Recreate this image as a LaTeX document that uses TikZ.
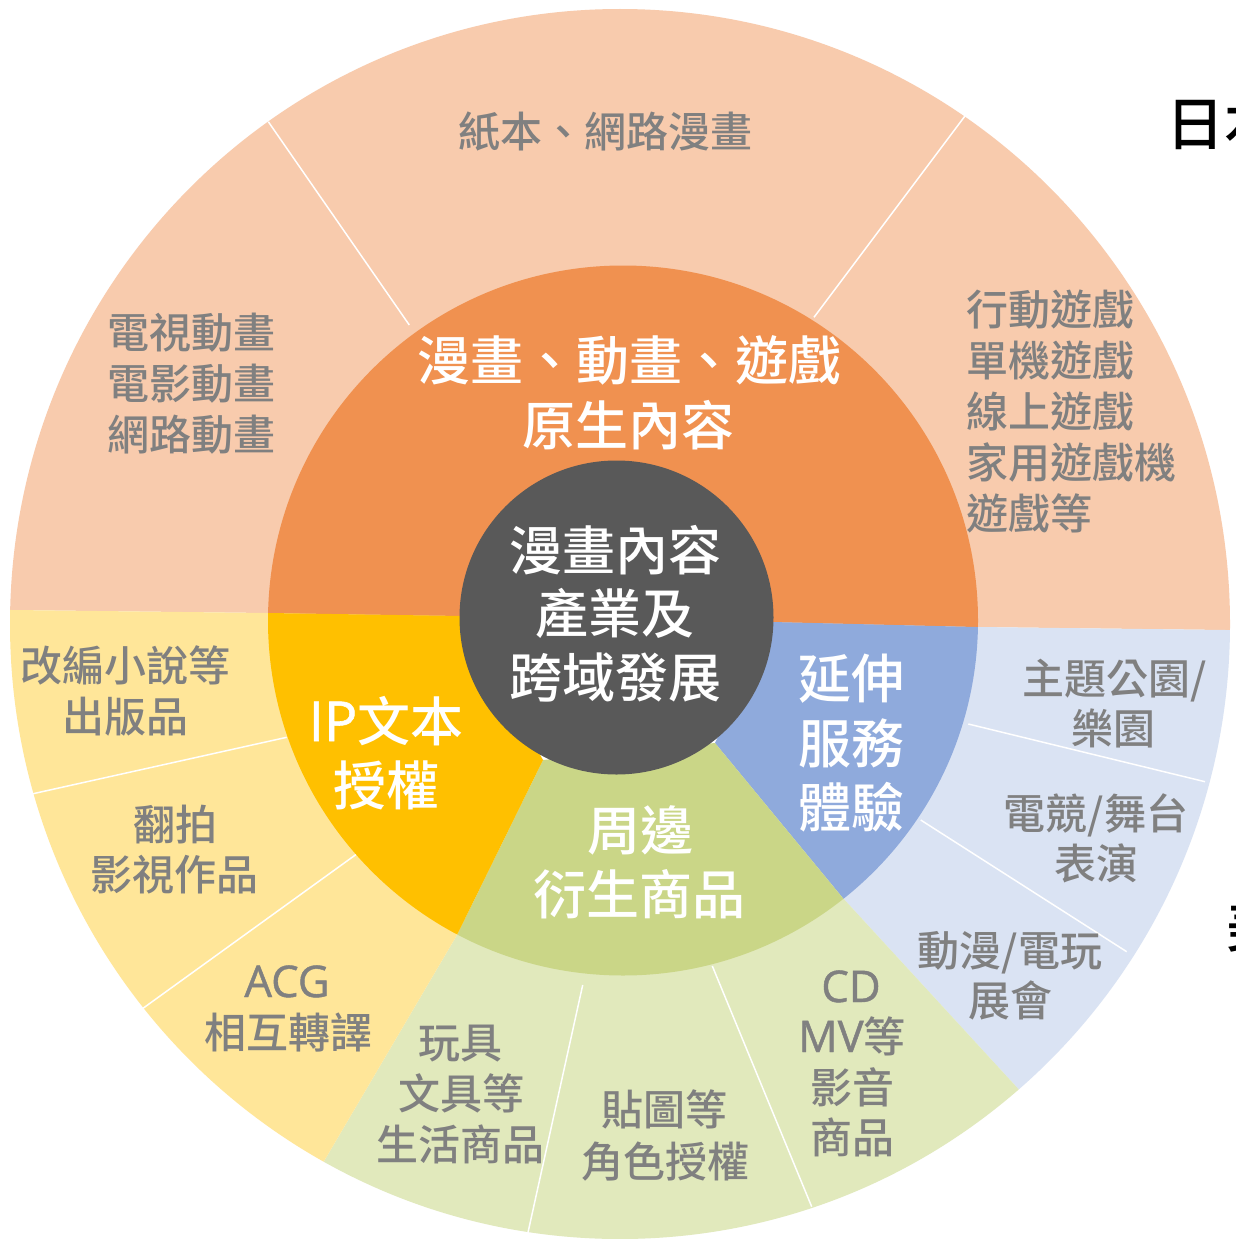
\documentclass[tikz,border=0pt]{standalone}
\usepackage{fontspec}
\IfFontExistsTF{Noto Sans CJK TC Medium}
  {\newfontfamily\cjk{Noto Sans CJK TC Medium}}
  {\newfontfamily\cjk[FakeBold=0.8]{Noto Sans CJK TC}}
\newfontfamily\lat[FakeBold=1.0,Scale=1.04]{Open Sans}
\definecolor{peach}{HTML}{F8CBAD}
\definecolor{orangeM}{HTML}{F09150}
\definecolor{lyellow}{HTML}{FFE699}
\definecolor{gold}{HTML}{FFC000}
\definecolor{lblue}{HTML}{DAE3F3}
\definecolor{blueM}{HTML}{8FAADC}
\definecolor{lgreen}{HTML}{E1E9BC}
\definecolor{greenM}{HTML}{CAD687}
\definecolor{coregray}{HTML}{595959}
\definecolor{txtgray}{HTML}{808080}
\tikzset{
  midlbl/.style={font=\cjk\fontsize{53}{64}\selectfont, text=white, anchor=base, inner sep=0pt},
  outlbl/.style={font=\cjk\fontsize{42}{51}\selectfont, text=txtgray, anchor=base, inner sep=0pt},
  sideword/.style={font=\cjk\fontsize{58}{64}\selectfont, text=black, anchor=base west, inner sep=0pt},
  sepline/.style={draw=white, line width=1.5pt}
}
\begin{document}
\begin{tikzpicture}[x=1pt,y=-1pt]
\useasboundingbox (0,0) rectangle (1235,1239);
\fill[white] (0,0) rectangle (1235,1239);
% ---------- outer ring ----------
\begin{scope}
\clip (620,624) ellipse[x radius=610pt, y radius=615pt];
\fill[peach] (-200,607.5) -- (268,613) -- (977,627) -- (1500,633.3) -- (1500,-200) -- (-200,-200) -- cycle;
\fill[lblue] (842,897) -- (977,627) -- (1500,633.3) -- (1522,1637) -- cycle;
\fill[lgreen] (457,935) -- (842,897) -- (1522,1637) -- (-91,1867) -- cycle;
\fill[lyellow] (268,613) -- (457,935) -- (-91,1867) -- (-200,1867) -- (-200,607.5) -- cycle;
\end{scope}
% separators inside the outer ring
\draw[sepline] (409.3,325) -- (268.3,121.7);
\draw[sepline] (814,317.3) -- (965.7,115);
\draw[sepline] (286.7,737.3) -- (27.3,795);
\draw[sepline] (356.7,854) -- (138.3,1011.7);
\draw[sepline] (968.3,724) -- (1205,781.7);
\draw[sepline] (920.7,820) -- (1126.7,951.7);
\draw[sepline] (582.7,985) -- (526.7,1238.3);
\draw[sepline] (712.3,966) -- (811.7,1206.7);
% ---------- middle ring ----------
\begin{scope}
\clip (623,620.5) circle[radius=355pt];
\fill[orangeM] (462,616) -- (100,610.4) -- (100,100) -- (1160,100) -- (1160,631.5) -- (772,622) -- cycle;
\fill[blueM] (715,743) -- (772,622) -- (1160,631.5) -- (1160,1282.6) -- cycle;
\fill[greenM] (543,760) -- (715,743) -- (1160,1282.6) -- (285,1285) -- cycle;
\fill[gold] (462,616) -- (543,760) -- (285,1285) -- (100,1285) -- (100,610.4) -- cycle;
\end{scope}
% ---------- core ----------
\fill[coregray] (616.5,617.5) circle[radius=157pt];
% core text
\node[midlbl] (c1) at (615,570) {漫畫內容};
\node[midlbl] (c2) at (615,633.5) {產業及};
\node[midlbl] (c3) at (615,697) {跨域發展};
% middle labels
\node[midlbl] (o1) at (629,380) {漫畫、動畫、遊戲};
\node[midlbl] (o2) at (628,445) {原生內容};
\node[midlbl] (b1) at (851,698) {延伸};
\node[midlbl] (b2) at (851,763) {服務};
\node[midlbl] (b3) at (851,827.5) {體驗};
\node[midlbl] (y1) at (386,741) {{\lat IP}文本};
\node[midlbl] (y2) at (386,805) {授權};
\node[midlbl] (g1) at (640,850.5) {周邊};
\node[midlbl] (g2) at (639,914) {衍生商品};
% outer labels
\node[outlbl] (t1) at (605,147) {紙本、網路漫畫};
\node[outlbl] (t2) at (191.5,348) {電視動畫};
\node[outlbl] (t3) at (191.5,399) {電影動畫};
\node[outlbl] (t4) at (191.5,450) {網路動畫};
\node[outlbl, anchor=base west] (t5) at (966,325) {行動遊戲};
\node[outlbl, anchor=base west] (t6) at (966,376) {單機遊戲};
\node[outlbl, anchor=base west] (t7) at (966,427) {線上遊戲};
\node[outlbl, anchor=base west] (t8) at (966,478) {家用遊戲機};
\node[outlbl, anchor=base west] (t9) at (966,529) {遊戲等};
\node[outlbl] (u1) at (125,681) {改編小說等};
\node[outlbl] (u2) at (125,732) {出版品};
\node[outlbl] (u3) at (175,840) {翻拍};
\node[outlbl] (u4) at (174,890) {影視作品};
\node[outlbl] (u5) at (287,997) {\lat ACG};
\node[outlbl] (u6) at (288,1048) {相互轉譯};
\node[outlbl] (v1) at (460,1058) {玩具};
\node[outlbl] (v2) at (461,1109) {文具等};
\node[outlbl] (v3) at (460,1160) {生活商品};
\node[outlbl] (v4) at (664,1125) {貼圖等};
\node[outlbl] (v5) at (665,1177.5) {角色授權};
\node[outlbl] (v6) at (851,1002) {\lat CD};
\node[outlbl] (v7) at (852,1052) {{\lat MV}等};
\node[outlbl] (v8) at (852,1103) {影音};
\node[outlbl] (v9) at (852,1153) {商品};
\node[outlbl] (w1) at (1115,694) {主題公園/};
\node[outlbl] (w2) at (1113,744) {樂園};
\node[outlbl] (w3) at (1096,829) {電競/舞台};
\node[outlbl] (w4) at (1096,879) {表演};
\node[outlbl] (w5) at (1010,966) {動漫/電玩};
\node[outlbl] (w6) at (1010,1016) {展會};
% cut-off words at the right edge
\begin{scope}
\clip (0,0) rectangle (1235,1239);
\node[sideword] (s1) at (1166,145) {日本};
\node[sideword] (s2) at (1226,947) {美};
\end{scope}
\end{tikzpicture}
\end{document}
